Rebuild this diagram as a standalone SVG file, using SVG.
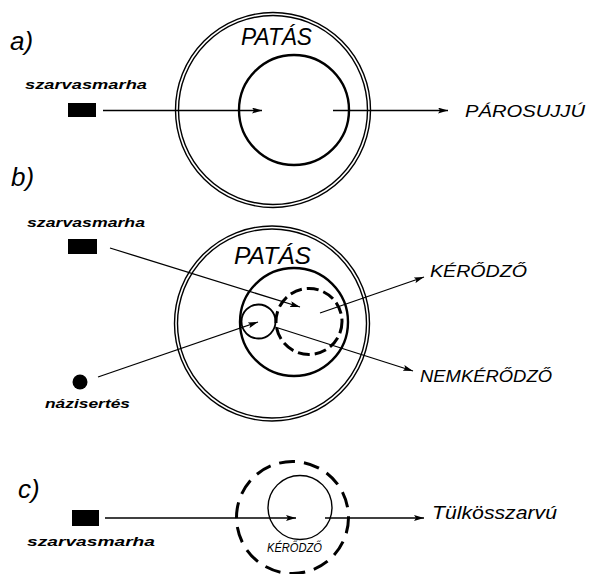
<svg xmlns="http://www.w3.org/2000/svg" width="590" height="574" viewBox="0 0 590 574">
<style>
.t{font-family:"Liberation Sans","DejaVu Sans",sans-serif;font-style:italic;fill:#000}
.sm{font-size:12px;font-weight:bold}
.cap{font-size:17px}
.big{font-size:23px}
.lab{font-size:26px}
.thin{fill:none;stroke:#000;stroke-width:1.4}
.solid{fill:none;stroke:#000;stroke-width:2.4}
.mid{fill:none;stroke:#000;stroke-width:1.8}
.dash{fill:none;stroke:#000;stroke-width:3}
.ln{fill:none;stroke:#000;stroke-width:1.3;marker-end:url(#ah)}
</style>
<defs>
<marker id="ah" viewBox="0 0 10 6" refX="10" refY="3" markerWidth="10" markerHeight="6" markerUnits="userSpaceOnUse" orient="auto">
<path d="M0,0 L10,3 L0,6 L2,3 Z" fill="#000"/>
</marker>
</defs>
<rect width="590" height="574" fill="#fff"/>

<!-- panel labels -->
<g id="label-a"><text class="t lab" x="10" y="50">a)</text></g>
<g id="label-b"><text class="t lab" x="11" y="186">b)</text></g>
<g id="label-c"><text class="t lab" x="18" y="498">c)</text></g>

<!-- panel a -->
<g id="a-patas">
<circle class="thin" cx="273" cy="110" r="97.5"/>
<circle class="thin" cx="273" cy="110" r="94.5"/>
<text class="t big" x="241" y="45" textLength="71" lengthAdjust="spacingAndGlyphs">PATÁS</text>
</g>
<g id="a-parosujju">
<circle class="solid" cx="294" cy="110" r="55"/>
<text class="t cap" x="465" y="117" font-size="21" textLength="120" lengthAdjust="spacingAndGlyphs">PÁROSUJJÚ</text>
</g>
<g id="a-szarvasmarha">
<text class="t sm" x="25" y="89" textLength="122" lengthAdjust="spacingAndGlyphs">szarvasmarha</text>
<rect x="68" y="103" width="28" height="14" fill="#000"/>
</g>

<!-- panel b -->
<g id="b-patas">
<circle class="thin" cx="272" cy="323.5" r="97.5"/>
<circle class="thin" cx="272" cy="323.5" r="94.5"/>
<text class="t big" x="234" y="264" textLength="77" lengthAdjust="spacingAndGlyphs">PATÁS</text>
</g>
<g id="b-inner">
<circle class="solid" cx="294" cy="322" r="54"/>
</g>
<g id="b-small">
<circle class="mid" cx="258.5" cy="321.5" r="17"/>
</g>
<g id="b-kerodzo">
<circle class="dash" cx="309" cy="321.5" r="33" stroke-dasharray="12 5"/>
<text class="t cap" x="430" y="277" textLength="97" lengthAdjust="spacingAndGlyphs">KÉRŐDZŐ</text>
</g>
<g id="b-nemkerodzo">
<text class="t cap" x="420" y="382" textLength="132" lengthAdjust="spacingAndGlyphs">NEMKÉRŐDZŐ</text>
</g>
<g id="b-szarvasmarha">
<text class="t sm" x="27" y="227" textLength="118" lengthAdjust="spacingAndGlyphs">szarvasmarha</text>
<rect x="68" y="239" width="29" height="15" fill="#000"/>
</g>
<g id="b-hazisertes">
<circle cx="80" cy="382" r="7.5" fill="#000"/>
<text class="t sm" x="45" y="408" font-size="13" textLength="85" lengthAdjust="spacingAndGlyphs">názisertés</text>
</g>

<!-- panel c -->
<g id="c-kerodzo">
<circle class="dash" cx="292.5" cy="517.5" r="56" stroke-dasharray="16 9"/>
<text class="t" x="267" y="552" font-size="12" textLength="55" lengthAdjust="spacingAndGlyphs">KÉRŐDZŐ</text>
</g>
<g id="c-tulkosszarvu">
<circle class="thin" cx="300" cy="507.5" r="32"/>
<text class="t" x="432" y="519" font-size="19" textLength="125" lengthAdjust="spacingAndGlyphs">Tülkösszarvú</text>
</g>
<g id="c-szarvasmarha">
<rect x="72" y="510" width="27" height="16" fill="#000"/>
<text class="t sm" x="27" y="546" font-size="13" textLength="128" lengthAdjust="spacingAndGlyphs">szarvasmarha</text>
</g>

<!-- connectors -->
<g id="connectors">
<line class="ln" x1="103" y1="110.5" x2="262" y2="110.5"/>
<line class="ln" x1="333" y1="110.5" x2="448" y2="110.5"/>
<line class="ln" x1="110" y1="248" x2="300" y2="307"/>
<line class="ln" x1="320" y1="313" x2="424" y2="277"/>
<line class="ln" x1="275" y1="327" x2="413" y2="371"/>
<line class="ln" x1="98" y1="377" x2="258" y2="322"/>
<line class="ln" x1="105" y1="518" x2="296" y2="518"/>
<line class="ln" x1="325" y1="518" x2="424" y2="518"/>
</g>
</svg>
